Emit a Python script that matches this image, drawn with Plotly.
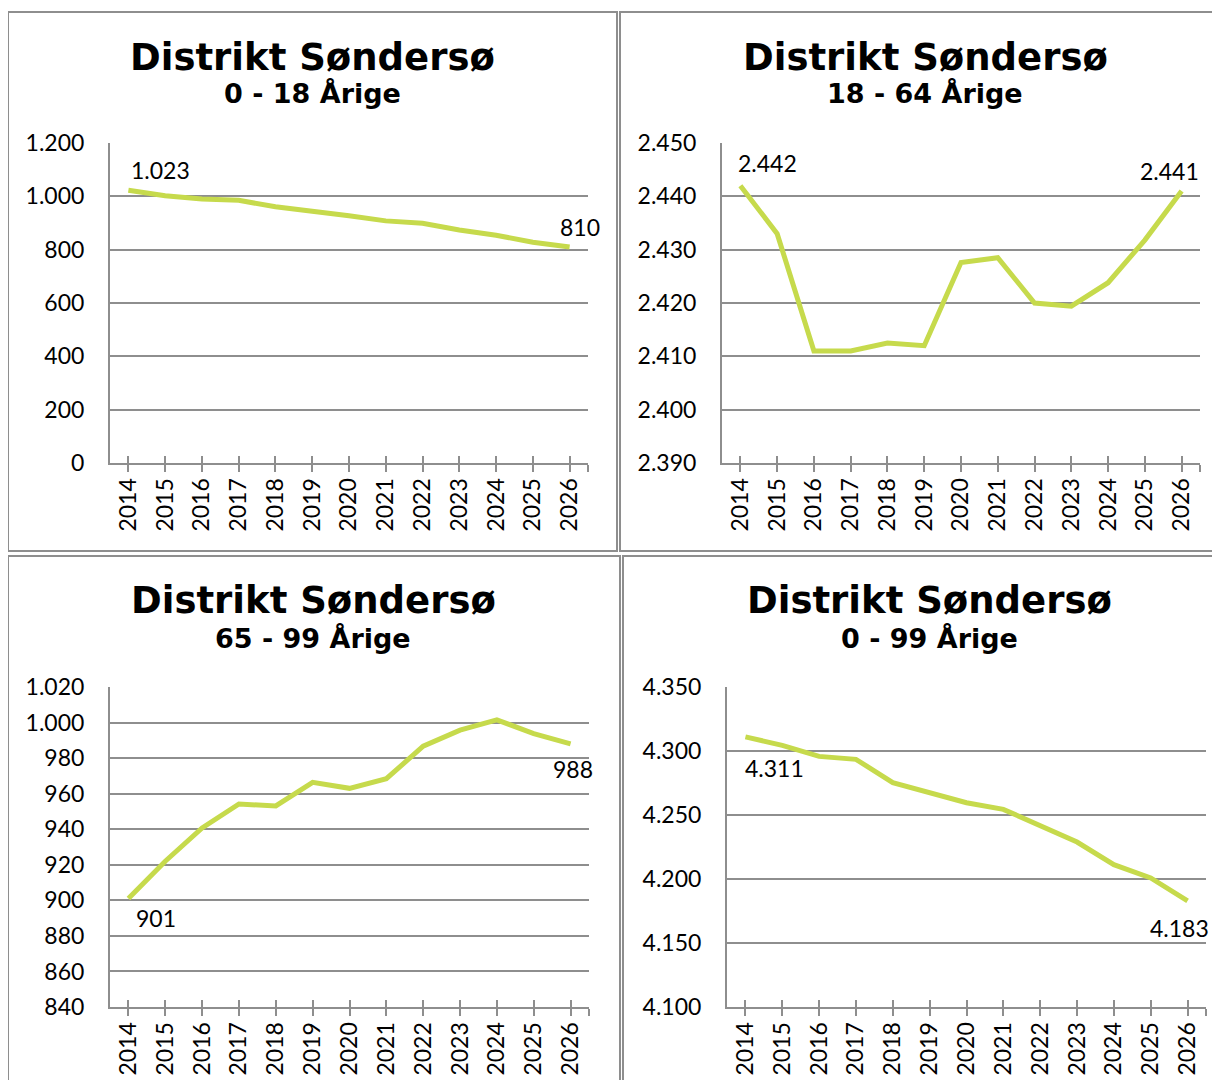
import plotly.graph_objects as go

# ---------------- data ----------------
years = [2014, 2015, 2016, 2017, 2018, 2019, 2020, 2021, 2022, 2023, 2024, 2025, 2026]
age_0_18 = [1023, 1002, 990, 985, 961, 945, 927, 908, 899, 874, 854, 828, 810]
age_18_64 = [2442, 2433, 2411, 2411, 2412.5, 2412, 2427.6, 2428.5, 2420, 2419.4, 2423.8, 2431.8, 2441]
age_65_99 = [901, 922, 940.7, 954.2, 953.1, 966.4, 963, 968.4, 986.7, 995.7, 1001.5, 993.8, 988]
age_0_99 = [4311, 4304.4, 4295.8, 4293.5, 4275.3, 4267.2, 4259.6, 4254.4, 4241.4, 4228.9, 4211.2, 4200.8, 4183]

title_main = "Distrikt Søndersø"
subtitles = ["0 - 18 Årige", "18 - 64 Årige", "65 - 99 Årige", "0 - 99 Årige"]
series = [age_0_18, age_18_64, age_65_99, age_0_99]
y_ranges = [(0, 1200, 200), (2390, 2450, 10), (840, 1020, 20), (4100, 4350, 50)]

# ---------------- styling / layout ----------------
W, H, OFF = 1204, 1072, 8
GREEN = "#C6DA4C"
GRAY = "#8E8E8E"
TICK_FONT = dict(family="Lato, Carlito, Calibri, sans-serif", size=23, color="#000000")
TITLE_FONT = "DejaVu Sans, Verdana, sans-serif"


def PX(x):
    return (x - OFF) / W


def PY(y):
    return 1 - (y - OFF) / H


# plot areas in page pixels: (left, right, top, bottom)
areas = [(110, 588, 143, 463), (722, 1200, 143, 463), (110, 589, 687, 1007), (727, 1206, 687, 1007)]
# panel frames in page pixels
frames = [(8, 617, 12, 551), (620, 1230, 12, 551), (8, 620, 556, 1095), (623, 1230, 556, 1095)]
# title centres (x, title y, subtitle y)
title_pos = [(312, 57, 94), (925, 57, 94), (313, 601, 638), (929.5, 601, 638)]
# label offsets (xshift, yshift) for first and last values
label_shifts = [((32, 20), (10, 20)), ((27, 23), (-12, 20)), ((28, -19), (2, -25)), ((29, -31), (-8, -27))]


def fmt(v):
    return f"{round(v):,}".replace(",", ".")


fig = go.Figure()
layout = dict(
    template="none",
    width=W, height=H, margin=dict(l=0, r=0, t=0, b=0, pad=0, autoexpand=False),
    paper_bgcolor="white", plot_bgcolor="white", showlegend=False,
    separators=",.", shapes=[], annotations=[],
)

x_end = years[-1] + 0.5
tickvals = years + [x_end]
ticktext = [str(y) for y in years] + [""]

for i, (vals, (y0, y1, dt), (l, r, t, b)) in enumerate(zip(series, y_ranges, areas)):
    n = i + 1
    ov = i + 5
    fig.add_trace(go.Scatter(
        x=years, y=vals, mode="lines", line=dict(color=GREEN, width=5),
        xaxis=f"x{n}", yaxis=f"y{n}", cliponaxis=False, hoverinfo="x+y",
    ))
    # empty trace for the overlay axis (upper half of crossing ticks)
    fig.add_trace(go.Scatter(x=[], y=[], xaxis=f"x{ov}", yaxis=f"y{n}", hoverinfo="skip"))

    xdom = [PX(l), PX(r)]
    ydom = [PY(b), PY(t)]
    layout[f"xaxis{n}"] = dict(
        domain=xdom, anchor=f"y{n}", range=[years[0] - 0.5, x_end], automargin=False,
        tickmode="array", tickvals=tickvals, ticktext=ticktext, tickangle=-90,
        ticks="outside", ticklen=7, tickwidth=1.5, tickcolor=GRAY,
        showline=True, linecolor=GRAY, linewidth=2, showgrid=False, zeroline=False,
        tickfont=TICK_FONT, ticklabelstandoff=-3, fixedrange=True,
    )
    layout[f"xaxis{ov}"] = dict(
        domain=xdom, anchor=f"y{n}", overlaying=f"x{n}", range=[years[0] - 0.5, x_end],
        automargin=False,
        tickmode="array", tickvals=tickvals, ticks="inside", ticklen=7, tickwidth=1.5,
        tickcolor=GRAY, showticklabels=False, showline=False, showgrid=False, zeroline=False,
        fixedrange=True,
    )
    layout[f"yaxis{n}"] = dict(
        domain=ydom, anchor=f"x{n}", range=[y0, y1], tick0=y0, dtick=dt, automargin=False,
        showgrid=True, gridcolor=GRAY, gridwidth=2, showline=True, linecolor=GRAY,
        linewidth=2, ticks="", zeroline=False, separatethousands=True,
        tickfont=TICK_FONT, ticklabelstandoff=19, fixedrange=True,
    )

    fl, fr, ft, fb = frames[i]
    layout["shapes"].append(dict(
        type="rect", xref="paper", yref="paper", x0=PX(fl), x1=PX(fr), y0=PY(fb), y1=PY(ft),
        line=dict(color=GRAY, width=2), fillcolor="rgba(0,0,0,0)", layer="below",
    ))

    tx, ty, sy = title_pos[i]
    layout["annotations"].append(dict(
        text=title_main, xref="paper", yref="paper", x=PX(tx), y=PY(ty),
        xanchor="center", yanchor="middle", showarrow=False,
        font=dict(family=TITLE_FONT, size=37, weight="bold", color="#000000"),
    ))
    layout["annotations"].append(dict(
        text=subtitles[i], xref="paper", yref="paper", x=PX(tx), y=PY(sy),
        xanchor="center", yanchor="middle", showarrow=False,
        font=dict(family=TITLE_FONT, size=27, weight="bold", color="#000000"),
    ))

    for idx, (dx, dy) in zip([0, len(years) - 1], label_shifts[i]):
        layout["annotations"].append(dict(
            text=fmt(vals[idx]), xref=f"x{n}", yref=f"y{n}", x=years[idx], y=vals[idx],
            xanchor="center", yanchor="middle", xshift=dx, yshift=dy, showarrow=False,
            font=TICK_FONT,
        ))

fig.update_layout(**layout)
fig.write_html("out.html")
